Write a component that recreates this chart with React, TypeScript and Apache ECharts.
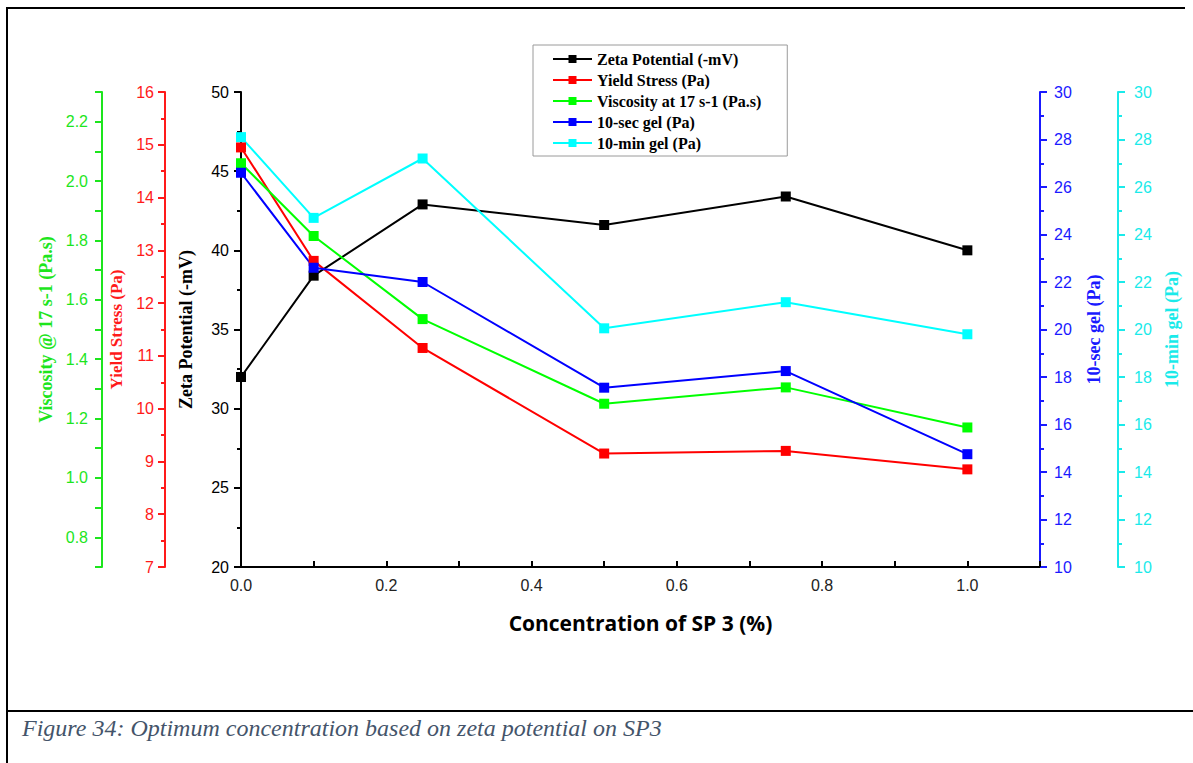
import React, { useEffect, useRef } from "react";
import * as echarts from "echarts";

const concentration = [0, 0.1, 0.25, 0.5, 0.75, 1.0];
const zetaPotential = [32.0, 38.4, 42.9, 41.6, 43.4, 40.0];
const yieldStress = [14.95, 12.8, 11.15, 9.15, 9.2, 8.85];
const viscosity = [2.06, 1.815, 1.535, 1.25, 1.305, 1.17];
const gel10s = [26.6, 22.6, 22.0, 17.55, 18.25, 14.75];
const gel10m = [28.1, 24.7, 27.2, 20.05, 21.15, 19.8];

const seriesNames = [
  "Zeta Potential (-mV)",
  "Yield Stress (Pa)",
  "Viscosity at 17 s-1 (Pa.s)",
  "10-sec gel (Pa)",
  "10-min gel (Pa)",
];
const axisNames = [
  "Zeta Potential (-mV)",
  "Yield Stress (Pa)",
  "Viscosity @ 17 s-1 (Pa.s)",
  "10-sec gel (Pa)",
  "10-min gel (Pa)",
];
const xAxisTitle = "Concentration of SP 3 (%)";
const caption = "Figure 34: Optimum concentration based on zeta potential on SP3";

const SERIF = "'Liberation Serif', 'Times New Roman', serif";
const SANS = "'Liberation Sans', Arial, sans-serif";

export default function App() {
  const ref = useRef<HTMLDivElement>(null);
  useEffect(() => {
    document.body.style.margin = "0";
    const chart = echarts.init(ref.current!, null, { renderer: "svg" });
    const colors = ["#000000", "#ff0000", "#00ff00", "#0000ff", "#00ffff"];
    const axisColors = ["#000000", "#ff1a1a", "#1de51d", "#1a1aff", "#1aeaea"];
    const pair = (ys: number[]) => concentration.map((x, i) => [x, ys[i]]);

    const yAxisBase = (i: number, pos: "left" | "right", offset: number, min: number, max: number, interval: number, minorSplit: number, margin: number, gap: number, nameSize: number, fmt?: (v: number) => string) => ({
      type: "value",
      position: pos,
      offset,
      min,
      max,
      interval,
      name: axisNames[i],
      nameLocation: "middle",
      nameRotate: 90,
      nameGap: gap,
      nameTextStyle: { color: axisColors[i], fontFamily: SERIF, fontWeight: "bold", fontSize: nameSize },
      axisLine: { show: true, lineStyle: { color: axisColors[i], width: 2 } },
      axisTick: { show: true, length: 7, lineStyle: { color: axisColors[i], width: 2 } },
      minorTick: { show: minorSplit > 1, splitNumber: minorSplit, length: 4, lineStyle: { color: axisColors[i], width: 2 } },
      axisLabel: { color: axisColors[i], fontFamily: SANS, fontSize: 16, margin, formatter: fmt },
      splitLine: { show: false },
    });

    const option: any = {
      animation: false,
      backgroundColor: "#ffffff",
      grid: { left: 241, right: 153, top: 92, bottom: 196, containLabel: false },
      legend: {
        orient: "vertical",
        left: 533,
        top: 45,
        itemWidth: 39,
        itemHeight: 10,
        itemGap: 5,
        padding: [6, 26, 5, 19],
        borderColor: "#9a9a9a",
        borderWidth: 1,
        backgroundColor: "#ffffff",
        textStyle: { fontFamily: SERIF, fontWeight: "bold", fontSize: 16, color: "#000" },
        data: seriesNames,
      },
      xAxis: {
        type: "value",
        min: 0,
        max: 1.1,
        interval: 0.1,
        name: xAxisTitle,
        nameLocation: "middle",
        nameGap: 45,
        nameTextStyle: { fontFamily: "'Liberation Sans Narrow', 'Open Sans', sans-serif", fontWeight: "bold", fontSize: 21, color: "#000" },
        axisLine: { show: true, lineStyle: { color: "#000", width: 2 } },
        axisTick: { show: true, inside: true, length: 6, lineStyle: { color: "#000", width: 2 } },
        axisLabel: {
          color: "#222",
          fontFamily: SANS,
          fontSize: 16,
          margin: 10,
          formatter: (v: number) => (Math.round(v * 10) % 2 === 0 && v <= 1.0001 ? v.toFixed(1) : ""),
        },
        splitLine: { show: false },
      },
      yAxis: [
        yAxisBase(0, "left", 0, 20, 50, 5, 2, 12, 46, 18),
        yAxisBase(1, "left", 76, 7, 16, 1, 2, 11, 29, 17),
        yAxisBase(2, "left", 139, 0.7, 2.3, 0.1, 1, 14, 46, 18, (v: number) =>
          Math.round(v * 10) % 2 === 0 ? v.toFixed(1) : ""
        ),
        yAxisBase(3, "right", 0, 10, 30, 2, 2, 14, 45, 18),
        yAxisBase(4, "right", 78, 10, 30, 2, 2, 16, 45, 18),
      ],
      series: [zetaPotential, yieldStress, viscosity, gel10s, gel10m].map((d, i) => ({
        name: seriesNames[i],
        type: "line",
        yAxisIndex: i,
        data: pair(d),
        symbol: "rect",
        symbolSize: 10,
        color: colors[i],
        lineStyle: { color: colors[i], width: 2 },
        itemStyle: { color: colors[i] },
      })),
      graphic: [
        { type: "line", shape: { x1: 7, y1: 8, x2: 7, y2: 763 }, style: { stroke: "#000", lineWidth: 2 } },
        { type: "line", shape: { x1: 6, y1: 8, x2: 1185, y2: 8 }, style: { stroke: "#000", lineWidth: 2 } },
        { type: "line", shape: { x1: 6, y1: 711, x2: 1193, y2: 711 }, style: { stroke: "#000", lineWidth: 2 } },
        {
          type: "text",
          left: 22,
          top: 716,
          style: { text: caption, font: `italic 24px ${SERIF}`, fill: "#44546a" },
        },
      ],
    };
    chart.setOption(option);
    return () => chart.dispose();
  }, []);
  return <div ref={ref} style={{ width: 1193, height: 763 }} />;
}
